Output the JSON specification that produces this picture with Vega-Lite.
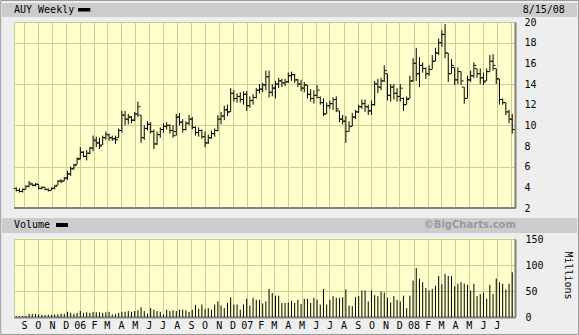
{
  "$schema": "https://vega.github.io/schema/vega-lite/v6.json",
  "width": 501,
  "height": 295,
  "autosize": {"type": "none"},
  "padding": {"left": 14, "top": 22, "right": 64, "bottom": 18},
  "background": "#eeeeee",
  "config": {
    "view": {"fill": "#ffffcc", "stroke": "#cccc99", "strokeWidth": 1},
    "axis": {
      "labelFont": "DejaVu Sans Mono", "labelFontSize": 10, "labelColor": "#000000",
      "gridColor": "#cccc99", "gridOpacity": 1, "gridWidth": 1,
      "domainColor": "#808080", "domainWidth": 2, "ticks": false,
      "labelOverlap": false,
      "titleFont": "DejaVu Sans Mono", "titleFontSize": 10, "titleFontWeight": "normal", "titleColor": "#000000"
    },
    "text": {"font": "DejaVu Sans Mono", "fontSize": 10, "color": "#000000"}
  },
  "datasets": {
    "w": [
      {"d":"2005-08-15","o":3.9,"h":4.0,"l":3.6,"c":3.7,"v":1.5},
      {"d":"2005-08-22","o":3.7,"h":3.9,"l":3.5,"c":3.6,"v":1.5},
      {"d":"2005-08-29","o":3.6,"h":3.9,"l":3.5,"c":3.8,"v":2},
      {"d":"2005-09-05","o":3.8,"h":4.2,"l":3.8,"c":4.1,"v":2},
      {"d":"2005-09-12","o":4.1,"h":4.6,"l":4.0,"c":4.4,"v":6},
      {"d":"2005-09-19","o":4.3,"h":4.4,"l":4.1,"c":4.2,"v":6},
      {"d":"2005-09-26","o":4.2,"h":4.4,"l":4.1,"c":4.3,"v":6},
      {"d":"2005-10-03","o":4.3,"h":4.3,"l":3.8,"c":3.9,"v":5},
      {"d":"2005-10-10","o":3.9,"h":4.1,"l":3.8,"c":4.0,"v":4},
      {"d":"2005-10-17","o":4.0,"h":4.0,"l":3.7,"c":3.8,"v":4},
      {"d":"2005-10-24","o":3.8,"h":3.9,"l":3.6,"c":3.7,"v":4.5},
      {"d":"2005-10-31","o":3.7,"h":4.0,"l":3.7,"c":3.9,"v":4},
      {"d":"2005-11-07","o":3.9,"h":4.2,"l":3.8,"c":4.1,"v":5},
      {"d":"2005-11-14","o":4.2,"h":4.7,"l":4.2,"c":4.6,"v":5},
      {"d":"2005-11-21","o":4.6,"h":4.8,"l":4.4,"c":4.6,"v":6},
      {"d":"2005-11-28","o":4.6,"h":5.0,"l":4.6,"c":4.9,"v":6},
      {"d":"2005-12-05","o":4.9,"h":5.6,"l":4.7,"c":5.3,"v":10},
      {"d":"2005-12-12","o":5.3,"h":6.0,"l":5.1,"c":5.8,"v":8},
      {"d":"2005-12-19","o":5.8,"h":6.3,"l":5.7,"c":6.1,"v":6},
      {"d":"2005-12-26","o":6.2,"h":6.9,"l":6.2,"c":6.7,"v":8},
      {"d":"2006-01-02","o":6.8,"h":7.9,"l":6.7,"c":7.4,"v":11.5},
      {"d":"2006-01-09","o":7.4,"h":7.5,"l":6.9,"c":7.0,"v":8},
      {"d":"2006-01-16","o":7.0,"h":7.6,"l":6.6,"c":7.3,"v":9},
      {"d":"2006-01-23","o":7.3,"h":7.9,"l":7.2,"c":7.8,"v":8},
      {"d":"2006-01-30","o":7.8,"h":9.0,"l":7.5,"c":8.6,"v":10},
      {"d":"2006-02-06","o":8.5,"h":8.9,"l":7.9,"c":8.3,"v":9},
      {"d":"2006-02-13","o":8.3,"h":8.8,"l":7.7,"c":8.0,"v":9},
      {"d":"2006-02-20","o":8.1,"h":9.0,"l":8.1,"c":8.8,"v":8},
      {"d":"2006-02-27","o":8.8,"h":9.4,"l":8.6,"c":9.1,"v":9},
      {"d":"2006-03-06","o":9.1,"h":9.2,"l":8.5,"c":8.8,"v":10},
      {"d":"2006-03-13","o":8.8,"h":9.0,"l":8.5,"c":8.7,"v":5},
      {"d":"2006-03-20","o":8.7,"h":9.0,"l":8.2,"c":8.6,"v":6},
      {"d":"2006-03-27","o":8.8,"h":9.7,"l":8.8,"c":9.5,"v":8},
      {"d":"2006-04-03","o":9.5,"h":11.4,"l":9.3,"c":11.0,"v":10},
      {"d":"2006-04-10","o":11.0,"h":11.4,"l":10.0,"c":10.6,"v":10},
      {"d":"2006-04-17","o":10.6,"h":11.1,"l":10.1,"c":10.8,"v":11.5},
      {"d":"2006-04-24","o":10.8,"h":10.9,"l":10.2,"c":10.5,"v":10},
      {"d":"2006-05-01","o":10.5,"h":11.3,"l":10.4,"c":11.1,"v":11.5},
      {"d":"2006-05-08","o":11.1,"h":12.3,"l":10.8,"c":11.8,"v":13},
      {"d":"2006-05-15","o":11.0,"h":11.0,"l":8.3,"c":8.8,"v":19},
      {"d":"2006-05-22","o":8.8,"h":10.0,"l":8.6,"c":9.7,"v":11.5},
      {"d":"2006-05-29","o":9.7,"h":10.4,"l":9.5,"c":10.1,"v":6.5},
      {"d":"2006-06-05","o":10.1,"h":10.3,"l":9.2,"c":9.4,"v":17},
      {"d":"2006-06-12","o":9.4,"h":9.6,"l":7.7,"c":8.2,"v":14},
      {"d":"2006-06-19","o":8.2,"h":9.4,"l":8.1,"c":9.1,"v":11.5},
      {"d":"2006-06-26","o":9.1,"h":9.8,"l":8.8,"c":9.6,"v":10},
      {"d":"2006-07-03","o":9.6,"h":10.2,"l":9.3,"c":9.9,"v":5},
      {"d":"2006-07-10","o":9.9,"h":10.3,"l":9.6,"c":10.0,"v":14},
      {"d":"2006-07-17","o":10.0,"h":10.1,"l":9.2,"c":9.5,"v":11.5},
      {"d":"2006-07-24","o":9.5,"h":10.0,"l":8.8,"c":9.0,"v":13},
      {"d":"2006-07-31","o":9.4,"h":11.1,"l":9.0,"c":10.8,"v":11.5},
      {"d":"2006-08-07","o":10.8,"h":11.2,"l":10.0,"c":10.3,"v":14},
      {"d":"2006-08-14","o":10.3,"h":10.6,"l":9.3,"c":9.6,"v":14},
      {"d":"2006-08-21","o":9.6,"h":10.4,"l":9.5,"c":10.2,"v":13},
      {"d":"2006-08-28","o":10.2,"h":11.0,"l":10.0,"c":10.6,"v":10},
      {"d":"2006-09-04","o":10.6,"h":10.8,"l":9.6,"c":9.8,"v":14},
      {"d":"2006-09-11","o":9.8,"h":9.9,"l":9.0,"c":9.3,"v":23},
      {"d":"2006-09-18","o":9.3,"h":9.8,"l":8.9,"c":9.5,"v":16},
      {"d":"2006-09-25","o":9.5,"h":9.6,"l":8.7,"c":8.9,"v":24},
      {"d":"2006-10-02","o":8.9,"h":9.4,"l":7.9,"c":8.3,"v":15},
      {"d":"2006-10-09","o":8.3,"h":9.1,"l":8.2,"c":8.8,"v":17},
      {"d":"2006-10-16","o":8.8,"h":9.5,"l":8.7,"c":9.2,"v":14},
      {"d":"2006-10-23","o":9.2,"h":9.7,"l":8.9,"c":9.5,"v":24},
      {"d":"2006-10-30","o":9.5,"h":11.0,"l":9.4,"c":10.6,"v":30},
      {"d":"2006-11-06","o":10.6,"h":11.3,"l":10.1,"c":10.9,"v":22},
      {"d":"2006-11-13","o":10.9,"h":11.9,"l":10.5,"c":11.5,"v":17},
      {"d":"2006-11-20","o":11.5,"h":12.0,"l":10.9,"c":11.3,"v":27},
      {"d":"2006-11-27","o":11.3,"h":13.6,"l":11.3,"c":13.1,"v":38},
      {"d":"2006-12-04","o":13.1,"h":13.4,"l":12.3,"c":12.6,"v":24},
      {"d":"2006-12-11","o":12.6,"h":13.1,"l":12.2,"c":12.8,"v":24},
      {"d":"2006-12-18","o":12.8,"h":13.2,"l":12.2,"c":12.5,"v":14},
      {"d":"2006-12-25","o":12.5,"h":13.3,"l":12.0,"c":13.0,"v":24},
      {"d":"2007-01-01","o":13.0,"h":13.3,"l":11.4,"c":11.9,"v":35},
      {"d":"2007-01-08","o":11.9,"h":12.8,"l":11.7,"c":12.4,"v":22},
      {"d":"2007-01-15","o":12.4,"h":13.0,"l":12.0,"c":12.7,"v":37},
      {"d":"2007-01-22","o":12.7,"h":13.6,"l":12.6,"c":13.4,"v":33},
      {"d":"2007-01-29","o":13.4,"h":14.0,"l":13.1,"c":13.5,"v":33},
      {"d":"2007-02-05","o":13.5,"h":14.1,"l":13.2,"c":13.9,"v":26},
      {"d":"2007-02-12","o":13.9,"h":15.3,"l":13.4,"c":14.7,"v":30},
      {"d":"2007-02-19","o":14.7,"h":15.3,"l":12.7,"c":13.2,"v":54},
      {"d":"2007-02-26","o":13.2,"h":14.0,"l":12.8,"c":13.6,"v":46},
      {"d":"2007-03-05","o":13.6,"h":14.3,"l":12.6,"c":14.0,"v":41},
      {"d":"2007-03-12","o":14.0,"h":14.6,"l":13.6,"c":14.3,"v":41},
      {"d":"2007-03-19","o":14.3,"h":14.5,"l":13.7,"c":14.1,"v":27},
      {"d":"2007-03-26","o":14.1,"h":14.5,"l":13.8,"c":14.2,"v":27},
      {"d":"2007-04-02","o":14.2,"h":15.1,"l":14.1,"c":14.8,"v":28},
      {"d":"2007-04-09","o":14.8,"h":15.2,"l":14.3,"c":14.9,"v":31},
      {"d":"2007-04-16","o":14.9,"h":15.0,"l":14.1,"c":14.4,"v":27},
      {"d":"2007-04-23","o":14.4,"h":14.5,"l":13.7,"c":14.0,"v":33},
      {"d":"2007-04-30","o":14.0,"h":14.4,"l":13.3,"c":13.6,"v":25},
      {"d":"2007-05-07","o":13.6,"h":14.2,"l":13.2,"c":13.9,"v":35},
      {"d":"2007-05-14","o":13.9,"h":13.9,"l":12.6,"c":13.0,"v":35},
      {"d":"2007-05-21","o":13.0,"h":13.5,"l":12.3,"c":12.6,"v":27},
      {"d":"2007-05-28","o":12.6,"h":13.4,"l":12.1,"c":12.9,"v":37},
      {"d":"2007-06-04","o":12.9,"h":13.9,"l":12.6,"c":13.4,"v":33},
      {"d":"2007-06-11","o":12.7,"h":12.8,"l":12.0,"c":12.2,"v":24},
      {"d":"2007-06-18","o":12.2,"h":12.6,"l":10.9,"c":11.1,"v":54},
      {"d":"2007-06-25","o":11.1,"h":12.2,"l":11.1,"c":11.9,"v":24},
      {"d":"2007-07-02","o":11.9,"h":12.4,"l":11.6,"c":12.1,"v":33},
      {"d":"2007-07-09","o":12.1,"h":12.7,"l":11.5,"c":12.5,"v":40},
      {"d":"2007-07-16","o":12.5,"h":12.8,"l":11.3,"c":11.6,"v":37},
      {"d":"2007-07-23","o":11.4,"h":11.4,"l":10.3,"c":10.6,"v":37},
      {"d":"2007-07-30","o":10.6,"h":11.0,"l":10.1,"c":10.4,"v":38},
      {"d":"2007-08-06","o":10.4,"h":10.9,"l":8.3,"c":9.4,"v":53},
      {"d":"2007-08-13","o":9.4,"h":10.4,"l":9.4,"c":9.9,"v":22},
      {"d":"2007-08-20","o":9.9,"h":11.2,"l":9.9,"c":10.8,"v":21},
      {"d":"2007-08-27","o":10.8,"h":11.5,"l":10.6,"c":11.3,"v":38},
      {"d":"2007-09-03","o":11.3,"h":12.0,"l":11.2,"c":11.8,"v":40},
      {"d":"2007-09-10","o":11.8,"h":12.5,"l":11.6,"c":12.1,"v":51},
      {"d":"2007-09-17","o":12.1,"h":12.5,"l":11.3,"c":11.8,"v":51},
      {"d":"2007-09-24","o":11.8,"h":12.0,"l":11.0,"c":11.4,"v":30},
      {"d":"2007-10-01","o":11.4,"h":12.4,"l":11.0,"c":12.0,"v":51},
      {"d":"2007-10-08","o":12.0,"h":14.3,"l":11.9,"c":14.0,"v":42},
      {"d":"2007-10-15","o":14.0,"h":14.5,"l":13.1,"c":13.7,"v":40},
      {"d":"2007-10-22","o":13.7,"h":14.6,"l":13.4,"c":14.3,"v":49},
      {"d":"2007-10-29","o":14.3,"h":15.8,"l":14.2,"c":15.3,"v":47},
      {"d":"2007-11-05","o":15.0,"h":15.0,"l":12.4,"c":12.9,"v":37},
      {"d":"2007-11-12","o":12.9,"h":14.0,"l":12.3,"c":13.7,"v":28},
      {"d":"2007-11-19","o":13.7,"h":14.0,"l":12.5,"c":13.1,"v":40},
      {"d":"2007-11-26","o":13.1,"h":13.6,"l":12.3,"c":12.8,"v":33},
      {"d":"2007-12-03","o":12.8,"h":14.0,"l":12.3,"c":13.6,"v":30},
      {"d":"2007-12-10","o":12.6,"h":12.7,"l":11.4,"c":12.0,"v":41},
      {"d":"2007-12-17","o":12.0,"h":12.8,"l":12.0,"c":12.5,"v":17},
      {"d":"2007-12-24","o":12.6,"h":14.8,"l":12.6,"c":14.3,"v":41},
      {"d":"2007-12-31","o":14.3,"h":16.5,"l":14.2,"c":16.0,"v":70},
      {"d":"2008-01-07","o":16.0,"h":17.5,"l":14.3,"c":15.0,"v":94},
      {"d":"2008-01-14","o":15.0,"h":16.6,"l":13.7,"c":15.8,"v":74},
      {"d":"2008-01-21","o":15.8,"h":16.1,"l":15.1,"c":15.5,"v":67},
      {"d":"2008-01-28","o":15.5,"h":15.6,"l":14.5,"c":15.0,"v":56},
      {"d":"2008-02-04","o":15.0,"h":15.8,"l":14.8,"c":15.4,"v":51},
      {"d":"2008-02-11","o":15.4,"h":16.8,"l":15.4,"c":16.2,"v":54},
      {"d":"2008-02-18","o":16.2,"h":17.5,"l":16.2,"c":17.0,"v":60},
      {"d":"2008-02-25","o":17.0,"h":18.4,"l":16.8,"c":18.0,"v":79},
      {"d":"2008-03-03","o":18.0,"h":19.2,"l":17.6,"c":18.8,"v":63},
      {"d":"2008-03-10","o":18.8,"h":19.8,"l":16.5,"c":17.0,"v":83},
      {"d":"2008-03-17","o":17.0,"h":17.0,"l":14.2,"c":15.0,"v":79},
      {"d":"2008-03-24","o":15.0,"h":16.4,"l":15.0,"c":15.8,"v":79},
      {"d":"2008-03-31","o":15.6,"h":15.6,"l":13.9,"c":14.4,"v":59},
      {"d":"2008-04-07","o":14.4,"h":15.6,"l":14.0,"c":15.2,"v":64},
      {"d":"2008-04-14","o":15.2,"h":15.2,"l":13.9,"c":14.3,"v":67},
      {"d":"2008-04-21","o":13.7,"h":13.7,"l":12.1,"c":12.6,"v":64},
      {"d":"2008-04-28","o":12.6,"h":14.8,"l":12.6,"c":14.4,"v":62},
      {"d":"2008-05-05","o":14.4,"h":15.3,"l":14.2,"c":14.8,"v":51},
      {"d":"2008-05-12","o":14.8,"h":16.1,"l":14.6,"c":15.8,"v":64},
      {"d":"2008-05-19","o":15.5,"h":15.5,"l":14.6,"c":15.0,"v":40},
      {"d":"2008-05-26","o":15.0,"h":15.5,"l":14.0,"c":14.6,"v":44},
      {"d":"2008-06-02","o":14.6,"h":15.1,"l":13.9,"c":14.2,"v":47},
      {"d":"2008-06-09","o":14.3,"h":15.5,"l":14.3,"c":15.2,"v":35},
      {"d":"2008-06-16","o":15.2,"h":16.8,"l":15.2,"c":16.2,"v":62},
      {"d":"2008-06-23","o":16.2,"h":16.9,"l":15.3,"c":15.8,"v":44},
      {"d":"2008-06-30","o":15.5,"h":15.5,"l":14.0,"c":14.5,"v":74},
      {"d":"2008-07-07","o":14.5,"h":14.5,"l":12.0,"c":12.5,"v":67},
      {"d":"2008-07-14","o":12.5,"h":12.6,"l":12.0,"c":12.2,"v":64},
      {"d":"2008-07-21","o":12.2,"h":12.2,"l":11.0,"c":11.3,"v":53},
      {"d":"2008-07-28","o":11.3,"h":11.5,"l":10.2,"c":10.6,"v":64},
      {"d":"2008-08-04","o":10.6,"h":11.1,"l":9.2,"c":9.6,"v":86}
    ]
  },
  "data": {"name": "w"},
  "layer": [
    {
      "layer": [
        {
          "mark": {"type": "rule", "color": "#000000", "strokeWidth": 1},
          "encoding": {
            "x": {
              "field": "d", "type": "temporal",
              "scale": {"type": "utc", "domain": [{"year": 2005, "month": 8, "date": 10, "utc": true}, {"year": 2008, "month": 8, "date": 10, "utc": true}]},
              "axis": {"title": null, "orient": "top", "grid": true, "labels": false, "domain": false, "ticks": false, "tickCount": {"interval": "month", "step": 1}}
            },
            "y": {
              "field": "l", "type": "quantitative",
              "scale": {"domain": [2, 20], "range": [186, 0], "nice": false, "zero": false},
              "axis": {"title": null, "orient": "right", "values": [2, 4, 6, 8, 10, 12, 14, 16, 18, 20], "grid": true, "labelPadding": 9, "labelOverlap": false}
            },
            "y2": {"field": "h"}
          }
        },
        {
          "mark": {"type": "tick", "orient": "horizontal", "size": 2, "thickness": 1, "xOffset": -1.5, "color": "#000000", "opacity": 1},
          "encoding": {
            "x": {"field": "d", "type": "temporal"},
            "y": {"field": "o", "type": "quantitative"}
          }
        },
        {
          "mark": {"type": "tick", "orient": "horizontal", "size": 2, "thickness": 1, "xOffset": 1.5, "color": "#000000", "opacity": 1},
          "encoding": {
            "x": {"field": "d", "type": "temporal"},
            "y": {"field": "c", "type": "quantitative"}
          }
        },
        {
          "data": {"values": [{}]},
          "mark": {"type": "rect", "color": "#eeeeee"},
          "encoding": {
            "x": {"datum": {"year": 2005, "month": 7, "date": 10, "utc": true}, "type": "temporal"},
            "x2": {"datum": {"year": 2008, "month": 8, "date": 13, "utc": true}},
            "y": {"datum": 1.9, "type": "quantitative"},
            "y2": {"datum": -0.93}
          }
        },
        {
          "data": {"values": [{}]},
          "mark": {"type": "rule", "color": "#808080", "strokeWidth": 2},
          "encoding": {"y": {"datum": 2, "type": "quantitative"}}
        }
      ]
    },
    {
      "layer": [
        {
          "data": {"values": [{}]},
          "mark": {"type": "rect", "color": "#cccccc"},
          "encoding": {
            "x": {
              "datum": {"year": 2005, "month": 7, "date": 15, "utc": true}, "type": "temporal",
              "scale": {"type": "utc", "domain": [{"year": 2005, "month": 8, "date": 10, "utc": true}, {"year": 2008, "month": 8, "date": 10, "utc": true}]},
              "axis": null
            },
            "x2": {"datum": {"year": 2008, "month": 12, "date": 24, "utc": true}},
            "y": {
              "datum": 21.84, "type": "quantitative",
              "scale": {"domain": [2, 20], "range": [186, 0], "nice": false, "zero": false},
              "axis": {"title": null, "orient": "right", "values": [4, 8, 12, 16, 20], "grid": false, "domain": false, "labelPadding": 9}
            },
            "y2": {"datum": 20.48}
          }
        },
        {
          "data": {"values": [{}]},
          "mark": {"type": "text", "align": "left", "baseline": "middle"},
          "encoding": {
            "x": {"datum": {"year": 2005, "month": 8, "date": 10, "utc": true}, "type": "temporal"},
            "y": {"datum": 21.16, "type": "quantitative"},
            "text": {"value": "AUY Weekly"}
          }
        },
        {
          "data": {"values": [{}]},
          "mark": {"type": "rect", "color": "#000000"},
          "encoding": {
            "x": {"datum": {"year": 2005, "month": 12, "date": 28, "utc": true}, "type": "temporal"},
            "x2": {"datum": {"year": 2006, "month": 1, "date": 24, "utc": true}},
            "y": {"datum": 21.355, "type": "quantitative"},
            "y2": {"datum": 21.016}
          }
        },
        {
          "data": {"values": [{}]},
          "mark": {"type": "text", "align": "right", "baseline": "middle"},
          "encoding": {
            "x": {"datum": {"year": 2008, "month": 11, "date": 27, "utc": true}, "type": "temporal"},
            "y": {"datum": 21.16, "type": "quantitative"},
            "text": {"value": "8/15/08"}
          }
        }
      ]
    },
    {
      "layer": [
        {
          "mark": {"type": "rule", "color": "#000000", "strokeWidth": 1},
          "encoding": {
            "x": {
              "field": "d", "type": "temporal",
              "scale": {"type": "utc", "domain": [{"year": 2005, "month": 8, "date": 10, "utc": true}, {"year": 2008, "month": 8, "date": 10, "utc": true}]},
              "axis": {"title": null, "orient": "top", "grid": true, "labels": false, "domain": false, "ticks": false, "tickCount": {"interval": "month", "step": 1}}
            },
            "y": {
              "field": "v", "type": "quantitative",
              "scale": {"domain": [0, 150], "range": [295, 217], "nice": false, "zero": true},
              "axis": {
                "title": "Millions", "orient": "right", "values": [0, 50, 100, 150], "grid": true, "labelPadding": 10, "labelOverlap": false,
                "titleAngle": 90, "titleX": 52, "titleY": 253, "titleAlign": "center", "titleBaseline": "middle"
              }
            },
            "y2": {"datum": 0}
          }
        }
      ]
    },
    {
      "layer": [
        {
          "data": {"values": [{}]},
          "mark": {"type": "rect", "color": "#cccccc"},
          "encoding": {
            "x": {
              "datum": {"year": 2005, "month": 7, "date": 15, "utc": true}, "type": "temporal",
              "scale": {"type": "utc", "domain": [{"year": 2005, "month": 8, "date": 10, "utc": true}, {"year": 2008, "month": 8, "date": 10, "utc": true}]},
              "axis": {
                "title": null, "orient": "bottom", "grid": false,
                "tickCount": {"interval": "month", "step": 1},
                "labelExpr": "utcFormat(datum.value, '%m') == '01' ? utcFormat(datum.value, '%y') : (datum.value > 1216000000000 ? '' : slice(utcFormat(datum.value, '%b'), 0, 1))",
                "labelOverlap": false, "labelFlush": false, "labelPadding": 3
              }
            },
            "x2": {"datum": {"year": 2008, "month": 12, "date": 24, "utc": true}},
            "y": {
              "datum": 190.4, "type": "quantitative",
              "scale": {"domain": [0, 150], "range": [295, 217], "nice": false, "zero": true},
              "axis": null
            },
            "y2": {"datum": 161.5}
          }
        },
        {
          "data": {"values": [{}]},
          "mark": {"type": "text", "align": "left", "baseline": "middle"},
          "encoding": {
            "x": {"datum": {"year": 2005, "month": 8, "date": 10, "utc": true}, "type": "temporal"},
            "y": {"datum": 176, "type": "quantitative"},
            "text": {"value": "Volume"}
          }
        },
        {
          "data": {"values": [{}]},
          "mark": {"type": "rect", "color": "#000000"},
          "encoding": {
            "x": {"datum": {"year": 2005, "month": 11, "date": 10, "utc": true}, "type": "temporal"},
            "x2": {"datum": {"year": 2005, "month": 12, "date": 6, "utc": true}},
            "y": {"datum": 180.8, "type": "quantitative"},
            "y2": {"datum": 173.1}
          }
        },
        {
          "data": {"values": [{}]},
          "mark": {"type": "text", "align": "right", "baseline": "middle", "font": "DejaVu Sans", "fontWeight": "bold", "fontSize": 10, "color": "#999999"},
          "encoding": {
            "x": {"datum": {"year": 2008, "month": 8, "date": 12, "utc": true}, "type": "temporal"},
            "y": {"datum": 176, "type": "quantitative"},
            "text": {"value": "©BigCharts.com"}
          }
        },
        {
          "data": {"values": [{}]},
          "mark": {"type": "rect", "fillOpacity": 0, "stroke": "#999999", "strokeWidth": 1},
          "encoding": {
            "x": {"datum": {"year": 2005, "month": 7, "date": 12, "utc": true}, "type": "temporal"},
            "x2": {"datum": {"year": 2008, "month": 12, "date": 27, "utc": true}},
            "y": {"datum": 608.6, "type": "quantitative"},
            "y2": {"datum": -33.6}
          }
        }
      ]
    }
  ],
  "resolve": {
    "scale": {"x": "independent", "y": "independent"},
    "axis": {"x": "independent", "y": "independent"}
  }
}
